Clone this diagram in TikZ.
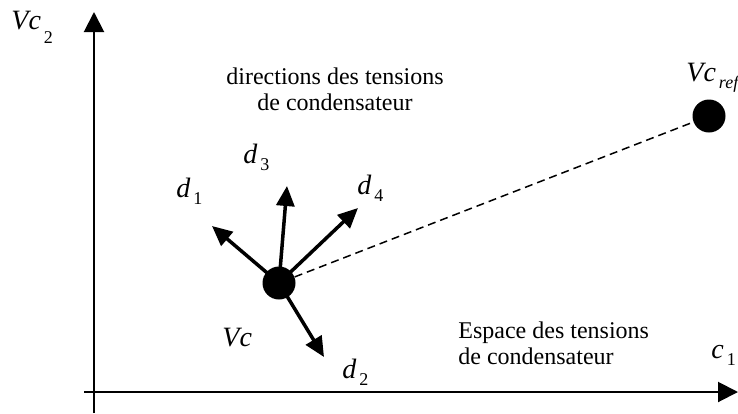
\documentclass[tikz,border=0pt]{standalone}
\usepackage{fontspec}
\setmainfont{Liberation Serif}
\usetikzlibrary{arrows.meta}

% italic letter with a spaced, lowered index
\newcommand{\vlab}[3][3.5pt]{{\fontsize{14}{16}\selectfont\textit{#2}}\hspace{1.5pt}\raisebox{-#1}{\fontsize{9}{10}\selectfont #3}}

\begin{document}
\begin{tikzpicture}[x=0.5pt, y=-0.5pt,
    every node/.style={font=\fontsize{12}{13}\selectfont, inner sep=0pt},
    axis/.style={line width=1pt, -{Triangle[length=10pt,width=10pt]}},
    dirarrow/.style={line width=1.75pt, -{Triangle[length=10pt,width=9pt]}},
    dot/.style={circle, fill=black, minimum size=16.5pt}]
    \useasboundingbox (0,0) rectangle (738,413);
    % axes
    \coordinate (ybot) at (94,413);
    \coordinate (ytop) at (94,12);
    \coordinate (xleft) at (84,392);
    \coordinate (xright) at (738,392);
    \draw[axis] (ybot) -- (ytop);
    \draw[axis] (xleft) -- (xright);
    \node[anchor=base west] (lvc2) at (11,29) {\vlab[7pt]{Vc}{2}};
    \node[anchor=base west] (lc1) at (711,358) {\vlab{c}{1}};
    % points
    \node[dot] (vc) at (279,283) {};
    \node[dot] (vcref) at (709,116) {};
    \draw[line width=0.75pt, dash pattern=on 4pt off 2.5pt] (vc) -- (vcref);
    \node[anchor=base west] (lvc) at (222,346) {\fontsize{14}{16}\selectfont\textit{Vc}};
    \node[anchor=base west] (lref) at (686,81) {\vlab{Vc}{\textit{ref}}};
    % directions
    \coordinate (t1) at (212,226);
    \coordinate (t2) at (324,357);
    \coordinate (t3) at (287,186);
    \coordinate (t4) at (358,208);
    \foreach \t in {t1,t2,t3,t4} { \draw[dirarrow] (vc.center) -- (\t); }
    \node[anchor=base west] (ld1) at (176,197) {\vlab{d}{1}};
    \node[anchor=base west] (ld2) at (342,378) {\vlab{d}{2}};
    \node[anchor=base west] (ld3) at (243,163) {\vlab{d}{3}};
    \node[anchor=base west] (ld4) at (357,194) {\vlab{d}{4}};
    % texts
    \node[align=center, anchor=north] (dirs) at (335,67) {directions des tensions\\de condensateur};
    \node[align=left, anchor=north west] (espace) at (458,321) {Espace des tensions\\de condensateur};
\end{tikzpicture}
\end{document}
